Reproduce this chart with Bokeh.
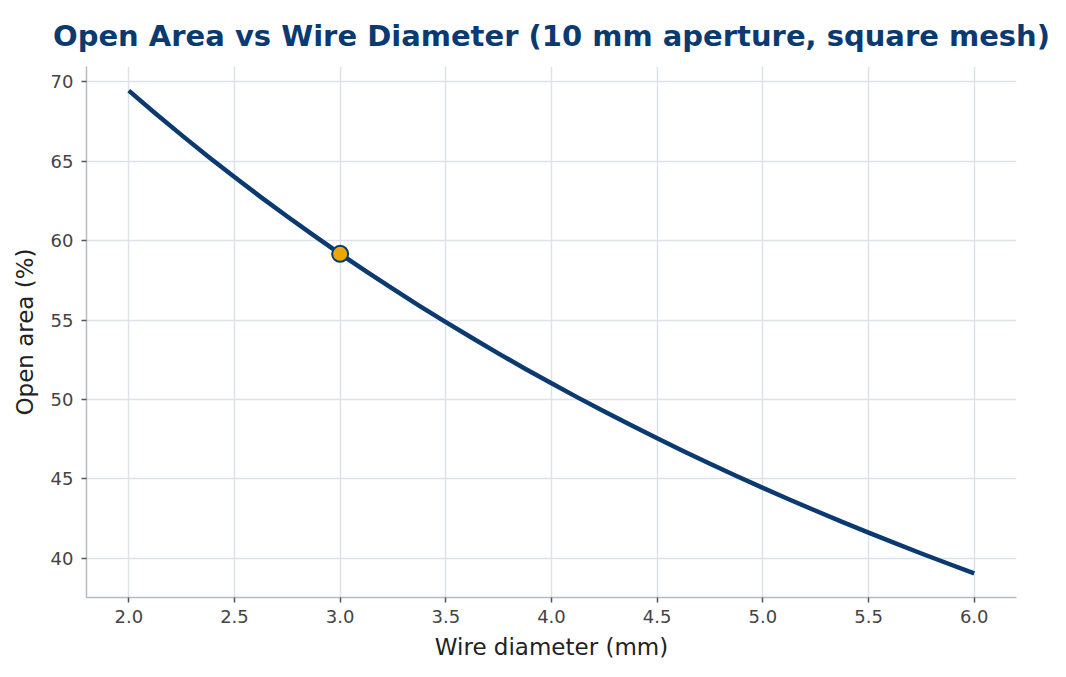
from bokeh.plotting import figure
from bokeh.models import Range1d, FixedTicker
from bokeh.embed import file_html
from bokeh.resources import INLINE

# Data
wire_diameter = [2.0, 2.125, 2.25, 2.375, 2.5, 2.625, 2.75, 2.875, 3.0, 3.125, 3.25, 3.375,
                 3.5, 3.625, 3.75, 3.875, 4.0, 4.125, 4.25, 4.375, 4.5, 4.625, 4.75, 4.875,
                 5.0, 5.125, 5.25, 5.375, 5.5, 5.625, 5.75, 5.875, 6.0]
open_area = [69.44, 68.02, 66.64, 65.30, 64.00, 62.74, 61.52, 60.33, 59.17, 58.05, 56.96, 55.90,
             54.87, 53.87, 52.89, 51.94, 51.02, 50.12, 49.25, 48.39, 47.56, 46.75, 45.96, 45.19,
             44.44, 43.71, 43.00, 42.30, 41.62, 40.96, 40.31, 39.68, 39.06]
highlight_x = [3.0]
highlight_y = [59.17]
x_ticks = [2.0, 2.5, 3.0, 3.5, 4.0, 4.5, 5.0, 5.5, 6.0]
y_ticks = [40, 45, 50, 55, 60, 65, 70]

FONT = "DejaVu Sans"
NAVY = "#0b3a70"

p = figure(width=1050, height=661, output_backend="svg", toolbar_location=None,
           x_range=Range1d(1.8, 6.2), y_range=Range1d(37.54, 70.96),
           frame_width=930, frame_height=531,
           min_border_left=86, min_border_right=34, min_border_top=66, min_border_bottom=64,
           title="Open Area vs Wire Diameter (10 mm aperture, square mesh)")

p.title.text_font = FONT
p.title.text_font_size = "29px"
p.title.text_font_style = "bold"
p.title.text_color = NAVY
p.title.align = "center"
p.title.vertical_align = "bottom"
p.title.offset = 0
p.title.standoff = 28

p.outline_line_color = None
p.background_fill_color = "white"
p.border_fill_color = "white"

p.line(wire_diameter, open_area, line_color=NAVY, line_width=4.5, line_join="round", line_cap="butt")
p.scatter(highlight_x, highlight_y, size=16, fill_color="#eaa800", line_color=NAVY, line_width=2)

for ax in (p.xaxis, p.yaxis):
    ax.axis_line_color = "#b3bcc6"
    ax.axis_line_width = 1.5
    ax.major_tick_line_color = "#555555"
    ax.major_tick_line_width = 1.5
    ax.major_tick_out = 5
    ax.major_tick_in = 0
    ax.minor_tick_line_color = None
    ax.major_label_text_font = FONT
    ax.major_label_text_font_size = "18px"
    ax.major_label_text_color = "#444444"
    ax.axis_label_text_font = FONT
    ax.axis_label_text_font_size = "23px"
    ax.axis_label_text_font_style = "normal"
    ax.axis_label_text_color = "#222222"

p.xaxis.major_label_standoff = 7
p.yaxis.major_label_standoff = 8
p.xaxis.axis_label_standoff = 8
p.yaxis.axis_label_standoff = 10

p.xaxis.ticker = FixedTicker(ticks=x_ticks)
p.yaxis.ticker = FixedTicker(ticks=y_ticks)
p.xaxis.major_label_overrides = {t: f"{t:.1f}" for t in x_ticks}
p.xaxis.axis_label = "Wire diameter (mm)"
p.yaxis.axis_label = "Open area (%)"

p.grid.grid_line_color = "#dde2e8"
p.grid.grid_line_width = 1.5

open("out.html", "w").write(file_html(p, INLINE))
